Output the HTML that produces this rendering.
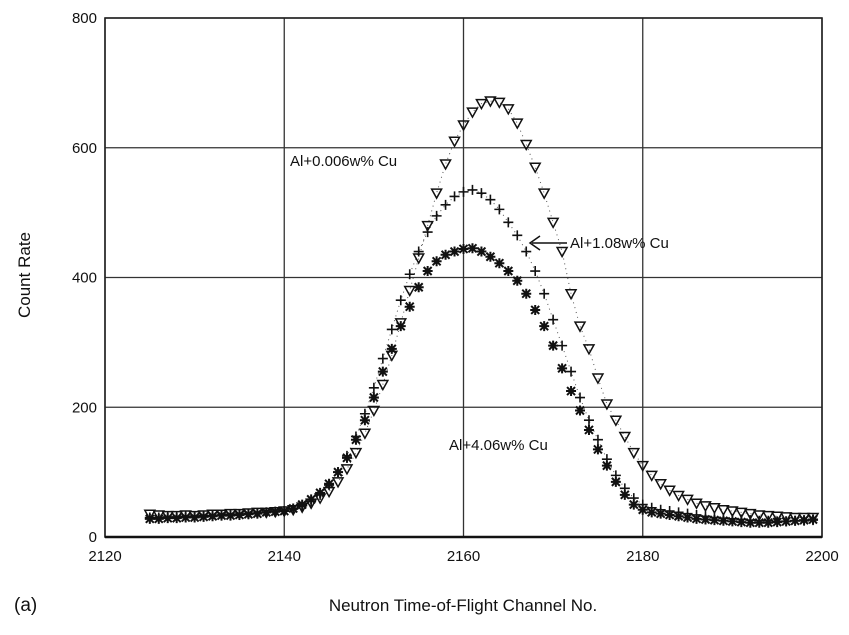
<!DOCTYPE html>
<html><head><meta charset="utf-8"><style>
body{margin:0;background:#fff;}
svg text{font-family:"Liberation Sans",Arial,sans-serif;fill:#111;}
</style></head><body>
<svg id="chart" width="849" height="630" viewBox="0 0 849 630" xmlns="http://www.w3.org/2000/svg">
<g id="grid"></g>
<g id="axes"></g>
<g id="series"></g>
<text x="30" y="275" font-size="17" text-anchor="middle" transform="rotate(-90 30 275)">Count Rate</text>
<text x="463" y="611" font-size="17" text-anchor="middle">Neutron Time-of-Flight Channel No.</text>
<text x="14" y="611" font-size="19">(a)</text>
<text x="290" y="166" font-size="15">Al+0.006w% Cu</text>
<text x="570" y="248" font-size="15">Al+1.08w% Cu</text>
<line x1="532" y1="243" x2="567" y2="243" stroke="#111" stroke-width="1.5"/>
<path d="M540 236 L530 243 L540 250" fill="none" stroke="#111" stroke-width="1.5"/>
<text x="449" y="450" font-size="15">Al+4.06w% Cu</text>
</svg>
<script>
const channelStart = 2125;
const triValues = [35,34,33,33,34,33,34,35,35,36,36,37,38,38,39,
40,42,46,52,60,70,85,105,130,160,195,235,280,330,380,430,480,530,575,610,
635,655,668,672,670,660,638,605,570,530,485,440,375,325,290,245,205,180,155,130,
110,95,82,72,64,58,52,48,45,42,40,38,36,34,33,32,31,30,30,30];
const plusValues = [30,30,31,31,32,32,33,33,34,35,35,36,37,38,39,
40,43,48,55,65,80,100,125,155,190,230,275,320,365,405,440,470,495,512,525,
532,535,530,520,505,485,465,440,410,375,335,295,255,215,180,150,120,95,75,60,
50,45,42,40,38,36,34,32,30,29,28,27,26,25,25,24,24,25,25,26];
const starValues = [28,28,29,29,30,30,31,32,33,33,34,35,36,38,39,
40,44,50,58,68,82,100,122,150,180,215,255,290,325,355,385,410,425,435,440,
444,445,440,432,422,410,395,375,350,325,295,260,225,195,165,135,110,85,65,50,
42,38,36,34,32,30,28,27,26,25,24,23,22,22,22,23,24,25,26,27];
const xTicks = [2120,2140,2160,2180,2200];
const yTicks = [0,200,400,600,800];

const X0=105,X1=822,Y0=537,Y1=18;
const sx=v=>X0+(v-2120)/(80)*(X1-X0);
const sy=v=>Y0-(v/800)*(Y0-Y1);
const NS="http://www.w3.org/2000/svg";
function mk(tag,attrs,parent){const e=document.createElementNS(NS,tag);for(const k in attrs)e.setAttribute(k,attrs[k]);parent.appendChild(e);return e;}
const grid=document.getElementById('grid'),axes=document.getElementById('axes'),ser=document.getElementById('series');
xTicks.forEach(t=>{
 const l=mk('line',{x1:sx(t),x2:sx(t),y1:Y1,y2:Y0,stroke:'#333','stroke-width':1.3},grid);
 
 
 const tx=mk('text',{x:sx(t),y:Y0+24,'font-size':15,'text-anchor':'middle'},axes);tx.textContent=t;
 
 
});
yTicks.forEach(t=>{
 const l=mk('line',{x1:X0,x2:X1,y1:sy(t),y2:sy(t),stroke:'#333','stroke-width':1.3},grid);
 
 
 const tx=mk('text',{x:X0-8,y:sy(t)+5,'font-size':15,'text-anchor':'end'},axes);tx.textContent=t;
 
 
});
const fr=mk('rect',{x:X0,y:Y1,width:X1-X0,height:Y0-Y1,fill:'none',stroke:'#222','stroke-width':1.6},axes);


const bl=mk('line',{x1:X0,x2:X1,y1:Y0,y2:Y0,stroke:'#111','stroke-width':2.5},axes);



function dotted(vals,name){
 const pts=vals.map((v,i)=>sx(channelStart+i)+','+sy(v)).join(' ');
 const p=mk('polyline',{points:pts,fill:'none',stroke:'#555','stroke-width':1,'stroke-dasharray':'1 4'},ser);
 
 
}
dotted(plusValues,'plus-series-line');
dotted(triValues,'triangle-series-line');

triValues.forEach((v,i)=>{
 const x=sx(channelStart+i),y=sy(v);
 const p=mk('path',{d:`M${x-5} ${y-4} L${x+5} ${y-4} L${x} ${y+5} Z`,fill:'none',stroke:'#111','stroke-width':1.5},ser);
 
 
});
plusValues.forEach((v,i)=>{
 const x=sx(channelStart+i),y=sy(v);
 const p=mk('path',{d:`M${x-5} ${y} L${x+5} ${y} M${x} ${y-5} L${x} ${y+5}`,stroke:'#111','stroke-width':1.6},ser);
 
 
});
starValues.forEach((v,i)=>{
 const x=sx(channelStart+i),y=sy(v);
 const p=mk('path',{d:`M${x-5} ${y} L${x+5} ${y} M${x} ${y-5} L${x} ${y+5} M${x-4} ${y-4} L${x+4} ${y+4} M${x-4} ${y+4} L${x+4} ${y-4}`,stroke:'#111','stroke-width':2},ser);
 
 
});
</script>
</body></html>
